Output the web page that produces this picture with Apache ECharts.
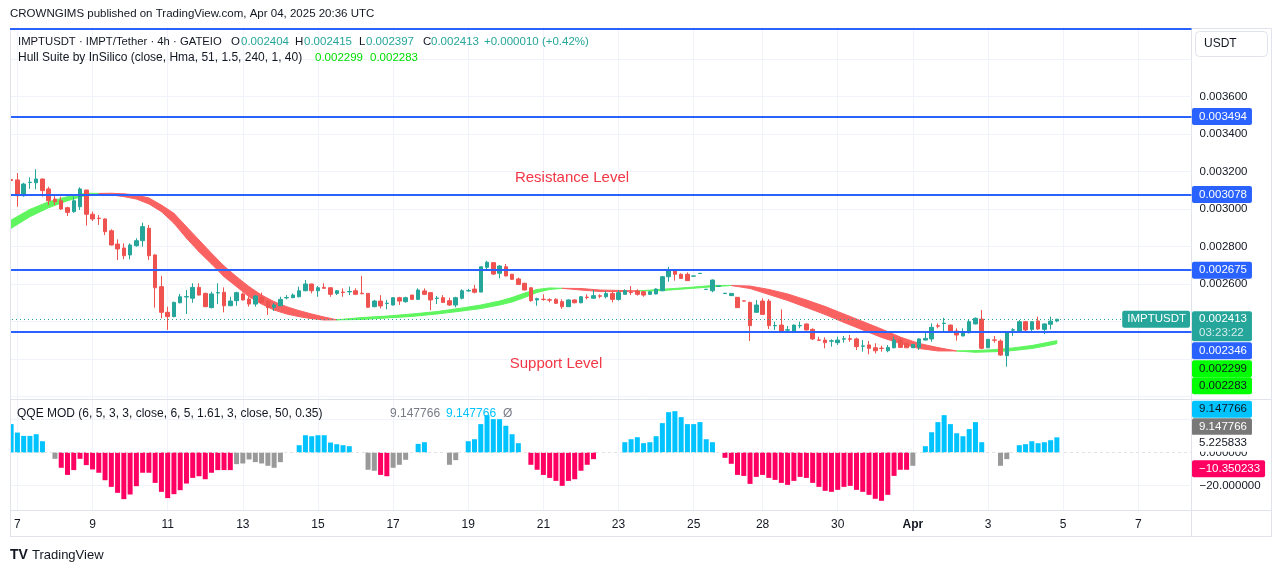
<!DOCTYPE html>
<html><head><meta charset="utf-8">
<script src="https://cdn.jsdelivr.net/npm/echarts@6/dist/echarts.min.js"></script>
<style>html,body{margin:0;padding:0;background:#fff}#c{width:1281px;height:573px}</style>
</head><body><div id="c"></div>
<script>
// ---------- DATA (4h bars, IMPT/USDT) ----------
const opens = [0.003158,0.003156,0.003072,0.003142,0.003141,0.003161,0.003108,0.003054,0.003045,0.003008,
0.002987,0.003013,0.003102,0.002973,0.002952,0.002948,0.002885,0.002814,0.002793,0.002756,
0.002805,0.002832,0.002898,0.002756,0.002587,0.002450,0.002427,0.002501,0.002532,0.002525,
0.002583,0.002551,0.002475,0.002553,0.002557,0.002485,0.002512,0.002548,0.002521,0.002494,
0.002530,0.002507,0.002477,0.002485,0.002527,0.002528,0.002533,0.002565,0.002601,0.002565,
0.002583,0.002581,0.002551,0.002558,0.002559,0.002565,0.002552,0.002551,0.002480,0.002510,
0.002497,0.002489,0.002528,0.002507,0.002542,0.002519,0.002564,0.002555,0.002524,0.002528,
0.002512,0.002489,0.002525,0.002564,0.002574,0.002558,0.002690,0.002715,0.002658,0.002693,
0.002653,0.002628,0.002605,0.002581,0.002516,0.002520,0.002517,0.002519,0.002507,0.002480,
0.002516,0.002501,0.002531,0.002525,0.002538,0.002533,0.002551,0.002519,0.002546,0.002558,
0.002564,0.002560,0.002546,0.002548,0.002565,0.002640,0.002670,0.002653,0.002653,0.002643,
0.002657,0.002572,0.002565,0.002589,0.002550,0.002539,0.002530,0.002511,0.002503,0.002450,
0.002510,0.002510,0.002378,0.002382,0.002355,0.002347,0.002378,0.002388,0.002359,0.002303,
0.002302,0.002296,0.002288,0.002307,0.002309,0.002308,0.002269,0.002276,0.002261,0.002259,
0.002245,0.002261,0.002302,0.002285,0.002261,0.002263,0.002302,0.002308,0.002378,0.002390,
0.002382,0.002350,0.002324,0.002341,0.002388,0.002414,0.002261,0.002303,0.002297,0.002219,
0.002355,0.002350,0.002400,0.002359,0.002404,0.002359,0.002386,0.002404];
const highs = [0.003193,0.003193,0.003141,0.003170,0.003213,0.003163,0.003120,0.003070,0.003067,0.003013,
0.003067,0.003117,0.003104,0.002987,0.002969,0.002951,0.002893,0.002839,0.002818,0.002818,
0.002845,0.002928,0.002916,0.002759,0.002644,0.002480,0.002507,0.002548,0.002569,0.002605,
0.002605,0.002555,0.002560,0.002605,0.002583,0.002533,0.002560,0.002555,0.002533,0.002542,
0.002555,0.002516,0.002498,0.002533,0.002542,0.002551,0.002587,0.002622,0.002603,0.002590,
0.002605,0.002583,0.002569,0.002578,0.002587,0.002578,0.002644,0.002553,0.002516,0.002542,
0.002516,0.002530,0.002533,0.002533,0.002544,0.002578,0.002578,0.002556,0.002537,0.002542,
0.002528,0.002533,0.002573,0.002575,0.002596,0.002695,0.002725,0.002717,0.002702,0.002708,
0.002655,0.002635,0.002607,0.002583,0.002528,0.002546,0.002525,0.002525,0.002519,0.002519,
0.002519,0.002537,0.002546,0.002569,0.002546,0.002564,0.002560,0.002569,0.002573,0.002590,
0.002573,0.002564,0.002564,0.002578,0.002644,0.002693,0.002676,0.002658,0.002663,0.002645,
0.002659,0.002574,0.002626,0.002592,0.002552,0.002552,0.002531,0.002512,0.002507,0.002516,
0.002525,0.002521,0.002400,0.002466,0.002377,0.002384,0.002400,0.002390,0.002365,0.002320,
0.002317,0.002306,0.002320,0.002324,0.002329,0.002315,0.002302,0.002297,0.002285,0.002272,
0.002276,0.002320,0.002311,0.002287,0.002281,0.002311,0.002350,0.002391,0.002391,0.002421,
0.002384,0.002365,0.002365,0.002409,0.002423,0.002462,0.002308,0.002324,0.002306,0.002348,
0.002365,0.002409,0.002404,0.002402,0.002427,0.002391,0.002427,0.002415];
const lows = [0.003140,0.003013,0.003067,0.003108,0.003106,0.003067,0.003022,0.003022,0.002996,0.002964,
0.002981,0.002996,0.002912,0.002937,0.002916,0.002862,0.002807,0.002729,0.002733,0.002733,
0.002800,0.002800,0.002729,0.002475,0.002418,0.002356,0.002424,0.002498,0.002441,0.002501,
0.002540,0.002478,0.002471,0.002494,0.002450,0.002483,0.002485,0.002514,0.002480,0.002480,
0.002498,0.002436,0.002457,0.002484,0.002519,0.002526,0.002530,0.002563,0.002551,0.002533,
0.002576,0.002533,0.002542,0.002533,0.002542,0.002542,0.002547,0.002475,0.002477,0.002471,
0.002466,0.002487,0.002489,0.002501,0.002516,0.002516,0.002542,0.002462,0.002494,0.002501,
0.002484,0.002477,0.002519,0.002560,0.002551,0.002557,0.002676,0.002649,0.002631,0.002642,
0.002622,0.002596,0.002567,0.002507,0.002485,0.002512,0.002503,0.002497,0.002468,0.002479,
0.002498,0.002498,0.002519,0.002524,0.002525,0.002525,0.002503,0.002512,0.002545,0.002542,
0.002539,0.002533,0.002542,0.002546,0.002563,0.002613,0.002619,0.002630,0.002617,0.002642,
0.002656,0.002571,0.002557,0.002588,0.002549,0.002538,0.002474,0.002509,0.002297,0.002448,
0.002436,0.002361,0.002356,0.002345,0.002341,0.002345,0.002365,0.002354,0.002302,0.002297,
0.002258,0.002267,0.002276,0.002288,0.002293,0.002249,0.002240,0.002226,0.002231,0.002240,
0.002237,0.002258,0.002262,0.002260,0.002260,0.002249,0.002301,0.002293,0.002365,0.002347,
0.002342,0.002299,0.002322,0.002338,0.002386,0.002253,0.002259,0.002288,0.002218,0.002160,
0.002324,0.002347,0.002347,0.002341,0.002356,0.002334,0.002359,0.002397];
const closes = [0.003153,0.003072,0.003134,0.003144,0.003161,0.003099,0.003045,0.003040,0.003001,0.002983,
0.003045,0.003108,0.002973,0.002948,0.002950,0.002880,0.002809,0.002788,0.002752,0.002809,
0.002832,0.002907,0.002752,0.002581,0.002450,0.002427,0.002503,0.002533,0.002534,0.002583,
0.002542,0.002480,0.002548,0.002555,0.002485,0.002510,0.002555,0.002516,0.002494,0.002537,
0.002503,0.002475,0.002489,0.002519,0.002529,0.002542,0.002565,0.002601,0.002565,0.002581,
0.002578,0.002546,0.002565,0.002556,0.002561,0.002546,0.002549,0.002477,0.002510,0.002484,
0.002499,0.002528,0.002510,0.002528,0.002519,0.002569,0.002546,0.002516,0.002526,0.002503,
0.002489,0.002528,0.002565,0.002566,0.002557,0.002693,0.002717,0.002654,0.002697,0.002644,
0.002626,0.002599,0.002569,0.002512,0.002523,0.002518,0.002515,0.002498,0.002480,0.002516,
0.002501,0.002533,0.002529,0.002539,0.002536,0.002551,0.002519,0.002555,0.002565,0.002556,
0.002546,0.002542,0.002560,0.002574,0.002640,0.002672,0.002653,0.002631,0.002619,0.002644,
0.002658,0.002573,0.002622,0.002590,0.002552,0.002551,0.002475,0.002510,0.002379,0.002489,
0.002439,0.002379,0.002380,0.002347,0.002357,0.002382,0.002380,0.002356,0.002308,0.002301,
0.002288,0.002298,0.002302,0.002309,0.002306,0.002267,0.002271,0.002258,0.002245,0.002257,
0.002263,0.002302,0.002263,0.002261,0.002279,0.002308,0.002311,0.002370,0.002376,0.002392,
0.002343,0.002329,0.002341,0.002400,0.002418,0.002258,0.002306,0.002301,0.002222,0.002347,
0.002357,0.002400,0.002356,0.002400,0.002361,0.002388,0.002403,0.002413];

// Hull Suite band (MHULL / SHULL) read at bar indices
const hullIdx = [0,3,6,9,12,14,16,18,20,22,24,26,28,30,32,34,36,38,40,42,44,46,48,50,52,56,60,64,68,72,75,78,80,82,84,86,88,91,94,98,100,104,108,112,115,118,121,124,127,130,133,136,139,142,145,148,151,154,157,160,163,165,167];
const hullM = [0.002942,0.002999,0.003040,0.003067,0.003085,0.003084,0.003076,0.003067,0.003054,0.003028,
0.002987,0.002925,0.002845,0.002773,0.002708,0.002640,0.002587,0.002533,0.002494,0.002462,
0.002441,0.002427,0.002416,0.002409,0.002410,0.002422,0.002430,0.002441,0.002454,0.002473,
0.002489,0.002510,0.002529,0.002553,0.002572,0.002580,0.002578,0.002569,0.002561,0.002561,
0.002564,0.002573,0.002582,0.002593,0.002593,0.002577,0.002545,0.002513,0.002476,0.002438,
0.002396,0.002356,0.002316,0.002284,0.002257,0.002244,0.002244,0.002246,0.002251,0.002260,
0.002273,0.002286,0.002299];
const hullS = [0.002898,0.002960,0.003008,0.003045,0.003074,0.003084,0.003085,0.003082,0.003076,0.003060,
0.003022,0.002978,0.002907,0.002836,0.002765,0.002697,0.002640,0.002587,0.002542,0.002507,
0.002480,0.002459,0.002441,0.002425,0.002410,0.002412,0.002420,0.002428,0.002441,0.002457,
0.002470,0.002489,0.002505,0.002529,0.002556,0.002572,0.002578,0.002577,0.002569,0.002566,
0.002564,0.002566,0.002576,0.002586,0.002593,0.002590,0.002572,0.002548,0.002516,0.002481,
0.002441,0.002401,0.002361,0.002318,0.002284,0.002262,0.002244,0.002237,0.002240,0.002246,
0.002257,0.002269,0.002283];

// QQE MOD histogram
const qqeValues = [17.1,12.0,10.0,10.0,11.0,6.8,null,-3.8,-9.2,-13.5,
-10.6,-3.8,-7.6,-10.2,-12.2,-16.7,-20.7,-24.3,-28.1,-25.3,
-20.3,-12.2,-12.2,-18.3,-23.7,-27.5,-25.1,-22.7,-18.7,-15.3,
-14.3,-16.1,-12.2,-10.6,-10.6,-10.6,-7.0,-6.6,-4.2,-5.8,
-6.6,-8.0,-9.2,-5.8,null,null,4.4,10.4,9.8,10.4,
10.4,6.0,5.0,4.4,3.8,null,null,-10.4,-11.0,-13.5,
-14.3,-9.2,-7.4,-4.4,null,5.2,6.2,null,null,null,
-7.4,-4.6,null,6.8,8.0,17.1,22.5,20.1,20.1,16.1,
11.0,5.6,null,-7.4,-10.4,-13.5,-15.3,-17.1,-20.1,-17.1,
-16.1,-11.0,-7.4,-4.0,null,null,null,null,6.2,8.0,
9.2,5.6,6.2,9.8,17.7,24.3,24.9,21.3,17.1,17.1,
18.3,8.0,6.2,null,-3.2,-6.8,-13.5,-14.1,-18.9,-14.7,
-13.5,-15.3,-16.5,-18.3,-19.5,-17.1,-14.7,-15.3,-18.3,-20.7,
-23.1,-23.7,-22.5,-20.7,-20.1,-22.5,-23.7,-25.5,-27.9,-29.1,
-25.5,-14.1,-10.4,-10.4,-8.0,null,3.8,12.2,18.3,22.5,
17.1,11.6,9.8,14.1,18.3,6.2,null,null,-8.0,-4.0,
null,4.4,5.0,6.8,5.6,6.2,7.4,9.147766];
// b = above threshold (blue), r = below threshold (red), g = neutral (grey)
const qqeKinds = ['bbbbbb.grr','rrrrrrrrrr','rrrrrrrrrr','rrrrrrgggg','gggg..bbbb',
'bbbbb..ggr','rggg.bb...','gg.bbbbbbb','bb.rrrrrrr','rrrr....bb','bbbbbbbbbb',
'bbb.rrrrrr','rrrrrrrrrr','rrrrrrrrrr','rrrrg.bbbb','bbbbbb..gg','.bbbbbbb'].join('');

const slotCount = 189;
const dateTicks = [[1,'7'],[13,'9'],[25,'11'],[37,'13'],[49,'15'],[61,'17'],[73,'19'],[85,'21'],
  [97,'23'],[109,'25'],[120,'28'],[132,'30'],[144,'Apr'],[156,'3'],[168,'5'],[180,'7']];
const priceGridTicks = [0.0020,0.0022,0.0024,0.0026,0.0028,0.0030,0.0032,0.0034,0.0036,0.0038];
const priceLabelTicks = [0.0026,0.0028,0.0030,0.0032,0.0034,0.0036];
const levels = [0.003961,0.003494,0.003078,0.002675,0.002346];
const taggedLevels = [0.003494,0.003078,0.002675,0.002346];
const lastPrice = 0.002413;
const countdown = '03:23:22';
const hullLast = [0.002299,0.002283];
const qqeGridTicks = [20,-20];
const qqeLabelTicks = [0,-20];
const qqeReadouts = {histBlue:9.147766, histGrey:9.147766, upper:5.225833, line:-10.350233};

// ---------- STYLE ----------
const UP='#26a69a', DOWN='#ef5350', LEVEL='#2962ff', TXT='#131722', GRID='#f0f3fa';
const QC = {b:'#00c3ff', r:'#ff0062', g:'#999999'};
const FONT = '"Liberation Sans", Arial, sans-serif';
const cats = Array.from({length: slotCount}, (_, i) => String(i));
const tickMap = Object.fromEntries(dateTicks);

const pMin = 0.00198773, pMax = 0.00397173;
const qMin = -34.639, qMax = 31.627;

const fmtP = v => v.toFixed(6);
const fmtQ = v => (v < 0 ? '\u2212' : '') + Math.abs(v).toFixed(6);

function txt(x, y, text, fill, size, extra) {
  return {type: 'text', silent: true, z: 20, style: Object.assign({x: x, y: y, text: text, fill: fill,
    font: (size || 12) + 'px ' + FONT, verticalAlign: 'middle'}, extra || {})};
}

const baseGraphics = [
  {type: 'rect', silent: true, z: 0, shape: {x: 10.5, y: 28.5, width: 1261, height: 508}, style: {fill: 'rgba(0,0,0,0)', stroke: '#e0e3eb', lineWidth: 1}},
  {type: 'rect', silent: true, z: 50, shape: {x: 0, y: 26, width: 10, height: 486}, style: {fill: '#ffffff'}},
  {type: 'line', silent: true, z: 51, shape: {x1: 10.5, y1: 31, x2: 10.5, y2: 537}, style: {stroke: '#e0e3eb', lineWidth: 1}},
  {type: 'line', silent: true, z: 0, shape: {x1: 10, y1: 399.5, x2: 1271, y2: 399.5}, style: {stroke: '#e0e3eb', lineWidth: 1}},
  {type: 'line', silent: true, z: 0, shape: {x1: 10, y1: 510.5, x2: 1271, y2: 510.5}, style: {stroke: '#e0e3eb', lineWidth: 1}},
  {type: 'line', silent: true, z: 0, shape: {x1: 1191.5, y1: 28, x2: 1191.5, y2: 537}, style: {stroke: '#e0e3eb', lineWidth: 1}},
  txt(10, 14, 'CROWNGIMS published on TradingView.com, Apr 04, 2025 20:36 UTC', TXT, 11.5),
  txt(18, 42, 'IMPTUSDT \u00b7 IMPT/Tether \u00b7 4h \u00b7 GATEIO', TXT, 11.3),
  txt(231, 42, 'O', TXT, 11.5), txt(241, 42, '0.002404', UP, 11.5),
  txt(295, 42, 'H', TXT, 11.5), txt(304, 42, '0.002415', UP, 11.5),
  txt(359, 42, 'L', TXT, 11.5), txt(366, 42, '0.002397', UP, 11.5),
  txt(423, 42, 'C', TXT, 11.5), txt(431, 42, '0.002413', UP, 11.5),
  txt(484, 42, '+0.000010 (+0.42%)', UP, 11.5),
  txt(18, 58, 'Hull Suite by InSilico (close, Hma, 51, 1.5, 240, 1, 40)', TXT, 12),
  txt(315, 58, '0.002299', '#00dd00', 11.5), txt(370, 58, '0.002283', '#00dd00', 11.5),
  txt(17, 414, 'QQE MOD (6, 5, 3, 3, close, 6, 5, 1.61, 3, close, 50, 0.35)', TXT, 12),
  txt(390, 414, '9.147766', '#787b86', 12), txt(446, 414, '9.147766', '#00c3ff', 12),
  txt(503, 414, '\u00d8', '#787b86', 12),
  txt(572, 178, 'Resistance Level', '#f23645', 15, {align: 'center'}),
  txt(556, 364, 'Support Level', '#f23645', 15, {align: 'center'}),
  {type: 'rect', silent: true, z: 20, shape: {x: 1195.5, y: 31.5, width: 72, height: 25, r: 4}, style: {fill: '#fff', stroke: '#e0e3eb', lineWidth: 1}},
  txt(1204, 44, 'USDT', TXT, 12),
  txt(10, 555, 'TV', TXT, 14, {font: 'bold 14px ' + FONT}),
  txt(32, 555, 'TradingView', TXT, 13)
];

const ML = {silent: true, symbol: ['none','none'], animation: false, precision: 10, label: {show: false}};

const option = {
  animation: false,
  backgroundColor: '#ffffff',
  textStyle: {fontFamily: FONT},
  grid: [
    {left: 8, top: 27, width: 1183.5, height: 372, outerBoundsMode: 'none', containLabel: false},
    {left: 8, top: 400, width: 1183.5, height: 110, outerBoundsMode: 'none', containLabel: false}
  ],
  xAxis: [
    {type: 'category', gridIndex: 0, data: cats, boundaryGap: true,
      axisLine: {show: false}, axisTick: {show: false}, axisLabel: {show: false}, splitLine: {show: false}},
    {type: 'category', gridIndex: 1, data: cats, boundaryGap: true,
      axisLine: {show: false}, axisTick: {show: false}, splitLine: {show: false},
      axisLabel: {show: true, interval: 0, margin: 9, color: TXT, fontSize: 12,
        formatter: (v, i) => { const t = tickMap[i]; if (!t) return ''; return t === 'Apr' ? '{b|Apr}' : t; },
        rich: {b: {fontWeight: 'bold', fontSize: 12, color: TXT}}}}
  ],
  yAxis: [
    {type: 'value', gridIndex: 0, position: 'right', min: pMin, max: pMax,
      axisLine: {show: false}, axisTick: {show: false}, splitLine: {show: false},
      axisLabel: {customValues: priceLabelTicks, formatter: fmtP, color: TXT, fontSize: 11.5, margin: 8}},
    {type: 'value', gridIndex: 1, position: 'right', min: qMin, max: qMax,
      axisLine: {show: false}, axisTick: {show: false}, splitLine: {show: false},
      axisLabel: {customValues: qqeLabelTicks, formatter: fmtQ, color: TXT, fontSize: 11.5, margin: 8}}
  ],
  series: [
    {type: 'line', xAxisIndex: 0, yAxisIndex: 0, data: [], silent: true,
      markLine: Object.assign({}, ML, {z: 1, lineStyle: {color: GRID, width: 1, type: 'solid'},
        data: [...priceGridTicks.map(v => ({yAxis: v})), ...dateTicks.map(d => ({xAxis: d[0]}))]})},
    {type: 'line', xAxisIndex: 1, yAxisIndex: 1, data: [], silent: true,
      markLine: Object.assign({}, ML, {z: 1, lineStyle: {color: GRID, width: 1, type: 'solid'},
        data: [...qqeGridTicks.map(v => ({yAxis: v})), ...dateTicks.map(d => ({xAxis: d[0]}))]})},
    {type: 'custom', xAxisIndex: 0, yAxisIndex: 0, z: 2, silent: true, clip: true,
      data: hullIdx.map((k, i) => [k, hullM[i], hullS[i]]),
      encode: {x: 0, y: [1, 2]},
      renderItem: function (params, api) {
        const i = params.dataIndex;
        if (i >= hullIdx.length - 1) return null;
        const a0 = api.coord([hullIdx[i], hullM[i]]);
        const a1 = api.coord([hullIdx[i+1], hullM[i+1]]);
        const b1 = api.coord([hullIdx[i+1], hullS[i+1]]);
        const b0 = api.coord([hullIdx[i], hullS[i]]);
        const up = (hullM[i] + hullM[i+1]) - (hullS[i] + hullS[i+1]) >= 0;
        const col = up ? '#5ef55e' : '#fa6262';
        return {type: 'polygon', shape: {points: [a0, a1, b1, b0]}, style: {fill: col, stroke: col, lineWidth: 1}};
      }},
    {type: 'candlestick', xAxisIndex: 0, yAxisIndex: 0, z: 3, barWidth: 4, silent: true,
      data: opens.map((o, i) => [o, closes[i], lows[i], highs[i]]),
      itemStyle: {color: UP, color0: DOWN, borderColor: UP, borderColor0: DOWN, borderWidth: 1}},
    {type: 'line', xAxisIndex: 0, yAxisIndex: 0, data: [], silent: true,
      markLine: Object.assign({}, ML, {z: 6, lineStyle: {color: LEVEL, width: 2, type: 'solid'},
        data: levels.map(v => ({yAxis: v}))})},
    {type: 'line', xAxisIndex: 0, yAxisIndex: 0, data: [], silent: true,
      markLine: Object.assign({}, ML, {z: 6, lineStyle: {color: UP, width: 1, type: [1, 3]},
        data: [{yAxis: lastPrice}]})},
    {type: 'bar', xAxisIndex: 1, yAxisIndex: 1, z: 2, barWidth: 5, silent: true,
      data: qqeValues.map((v, i) => v === null ? '-' : {value: v, itemStyle: {color: QC[qqeKinds[i]]}})},
    {type: 'line', xAxisIndex: 1, yAxisIndex: 1, data: [], silent: true,
      markLine: Object.assign({}, ML, {z: 6, lineStyle: {color: '#e3e3e3', width: 1, type: [3, 3]},
        data: [{yAxis: 0}]})}
  ],
  graphic: baseGraphics
};

const chart = echarts.init(document.getElementById('c'), null, {renderer: 'canvas', width: 1281, height: 573});
try {
  chart.setOption(option);
  // price-axis tags positioned through the library's own scales
  const yP = v => chart.convertToPixel({yAxisIndex: 0}, v);
  const yQ = v => chart.convertToPixel({yAxisIndex: 1}, v);
  const TAGX = 1192;
  function tagG(y, text, bg, fg, extra) {
    return {type: 'text', silent: true, z: 60, style: Object.assign({x: TAGX, y: y, text: text, fill: fg,
      backgroundColor: bg, padding: [2, 5, 1, 7], borderRadius: 2, font: '11.5px ' + FONT,
      verticalAlign: 'middle', lineHeight: 14}, extra || {})};
  }
  const tags = [];
  taggedLevels.forEach(v => tags.push(tagG(yP(v) + (v === 0.002346 ? 19 : 0), fmtP(v), LEVEL, '#fff')));
  tags.push(tagG(yP(lastPrice) + 7, '{p|' + fmtP(lastPrice) + '}\n{t|' + countdown + '}', UP, '#fff',
    {rich: {p: {fill: '#fff', font: '11.5px ' + FONT, lineHeight: 14}, t: {fill: 'rgba(255,255,255,0.8)', font: '11.5px ' + FONT, lineHeight: 14}},
     padding: [1, 5, 1, 7]}));
  tags.push(tagG(yP(lastPrice), 'IMPTUSDT', UP, '#fff', {x: 1190, align: 'right', padding: [2, 4, 1, 5]}));
  tags.push(tagG(yP(hullLast[0]) + 28, fmtP(hullLast[0]), '#00ff00', TXT));
  tags.push(tagG(yP(hullLast[1]) + 42, fmtP(hullLast[1]), '#00ff00', TXT));
  tags.push(tagG(yQ(qqeReadouts.histBlue) - 28, qqeReadouts.histBlue.toFixed(6), QC.b, TXT));
  tags.push(tagG(yQ(qqeReadouts.histGrey) - 10.5, qqeReadouts.histGrey.toFixed(6), '#787878', '#fff'));
  tags.push(tagG(yQ(qqeReadouts.upper) - 0.5, qqeReadouts.upper.toFixed(6), '#ffffff', TXT));
  tags.push(tagG(yQ(qqeReadouts.line) - 1, fmtQ(qqeReadouts.line), QC.r, '#fff'));
  chart.setOption({graphic: baseGraphics.concat(tags)});
} catch (e) {
  document.body.insertAdjacentHTML('beforeend', '<pre style="position:absolute;left:600px;top:5px;color:red;font-size:11px">' + e + '</pre>');
}
</script>
</body></html>
